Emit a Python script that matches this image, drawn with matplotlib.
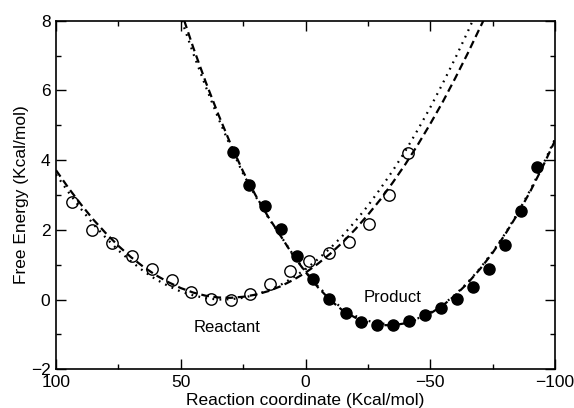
import matplotlib
matplotlib.use("Agg")
import matplotlib.pyplot as plt
from matplotlib.ticker import MultipleLocator

plt.rcParams['font.family'] = ['Liberation Sans', 'DejaVu Sans']

# open circles: reactant state
reactant_x = [93.5, 85.6, 77.6, 69.6, 61.6, 53.6, 45.9, 38.0, 30.0, 22.1, 14.2, 6.2,
              -1.5, -9.5, -17.4, -25.5, -33.3, -41.2]
reactant_y = [2.79, 2.00, 1.62, 1.25, 0.88, 0.56, 0.23, 0.01, -0.01, 0.17, 0.46, 0.81,
              1.11, 1.34, 1.66, 2.18, 3.01, 4.21]

# filled circles: product state
product_x = [28.9, 22.8, 16.1, 9.7, 3.5, -2.9, -9.5, -16.1, -22.4, -28.7, -35.2, -41.6,
             -47.9, -54.3, -60.7, -67.0, -73.4, -80.0, -86.5, -92.7]
product_y = [4.22, 3.28, 2.68, 2.02, 1.25, 0.60, 0.02, -0.39, -0.64, -0.73, -0.72, -0.62,
             -0.43, -0.23, 0.01, 0.37, 0.87, 1.56, 2.54, 3.81]

# curves
grid_x = [100, 95, 90, 85, 80, 75, 70, 65, 60, 55, 50, 45, 40, 35, 30, 25, 20, 15, 10, 5,
          0, -5, -10, -15, -20, -25, -30, -35, -40, -45, -50, -55, -60, -65]
r_dash_y = [3.71, 3.20, 2.73, 2.29, 1.90, 1.54, 1.22, 0.94, 0.70, 0.50, 0.33, 0.20, 0.11,
            0.06, 0.05, 0.08, 0.14, 0.24, 0.38, 0.56, 0.77, 1.03, 1.32, 1.65, 2.02, 2.43,
            2.87, 3.36, 3.88, 4.44, 5.04, 5.67, 6.35, 7.06]
r_dash_end = ([-70, -71.3], [7.81, 8.0])
r_dot_y = [3.59, 3.08, 2.60, 2.16, 1.77, 1.41, 1.10, 0.82, 0.58, 0.39, 0.23, 0.12, 0.04,
           0.00, 0.01, 0.05, 0.14, 0.26, 0.42, 0.63, 0.87, 1.16, 1.48, 1.84, 2.25, 2.69,
           3.18, 3.70, 4.26, 4.87, 5.51, 6.20, 6.92, 7.68]
r_dot_end = ([-67.0], [8.0])

p_grid_x = [45, 40, 35, 30, 25, 20, 15, 10, 5, 0, -5, -10, -15, -20, -25, -30, -35, -40,
            -45, -50, -55, -60, -65, -70, -75, -80, -85, -90, -95, -100]
p_dash_y = [7.23, 6.24, 5.32, 4.46, 3.67, 2.99, 2.38, 1.83, 1.27, 0.79, 0.35, -0.02, -0.32,
            -0.52, -0.66, -0.73, -0.74, -0.68, -0.57, -0.40, -0.17, 0.12, 0.47, 0.88, 1.34,
            1.87, 2.45, 3.09, 3.80, 4.56]
p_dash_start = (48.6, 8.0)
p_dot_y = [7.06, 6.11, 5.21, 4.38, 3.61, 2.96, 2.36, 1.83, 1.29, 0.81, 0.38, 0.03, -0.27,
           -0.47, -0.61, -0.69, -0.70, -0.65, -0.54, -0.37, -0.15, 0.14, 0.49, 0.90, 1.37,
           1.89, 2.48, 3.13, 3.84, 4.61]
p_dot_start = (49.6, 8.0)

fig = plt.figure(figsize=(5.74, 4.08), dpi=100)
ax = fig.add_axes([0.0976, 0.0949, 0.8693, 0.8544])

dash_style = dict(color='black', lw=1.6, linestyle=(0, (3.5, 2.0)))
dot_style = dict(color='black', lw=1.6, linestyle=(0, (0.8, 2.4)))

ax.plot(grid_x + r_dash_end[0], r_dash_y + r_dash_end[1], **dash_style)
ax.plot(grid_x + r_dot_end[0], r_dot_y + r_dot_end[1], **dot_style)
ax.plot([p_dash_start[0]] + p_grid_x, [p_dash_start[1]] + p_dash_y, **dash_style)
ax.plot([p_dot_start[0]] + p_grid_x, [p_dot_start[1]] + p_dot_y, **dot_style)

ax.plot(reactant_x, reactant_y, 'o', ms=8.2, mfc='none', mec='black', mew=1.0)
ax.plot(product_x, product_y, 'o', ms=8.0, mfc='black', mec='black')

ax.text(31.5, -0.79, 'Reactant', fontsize=12, ha='center', va='center')
ax.text(-34.7, 0.07, 'Product', fontsize=12, ha='center', va='center')

ax.set_xlim(100, -100)
ax.set_ylim(-2, 8)
ax.xaxis.set_major_locator(MultipleLocator(50))
ax.xaxis.set_minor_locator(MultipleLocator(25))
ax.yaxis.set_major_locator(MultipleLocator(2))
ax.yaxis.set_minor_locator(MultipleLocator(1))
ax.tick_params(which='both', direction='in', top=True, right=True, labelsize=12.5, width=1.0)
ax.tick_params(which='major', length=7.5, pad=4)
ax.tick_params(which='minor', length=3.6)
for s in ax.spines.values():
    s.set_linewidth(1.2)

ax.set_xlabel('Reaction coordinate (Kcal/mol)', fontsize=12.5, labelpad=2)
ax.set_ylabel('Free Energy (Kcal/mol)', fontsize=12.5, labelpad=1)

fig.savefig('out.png', dpi=100)
